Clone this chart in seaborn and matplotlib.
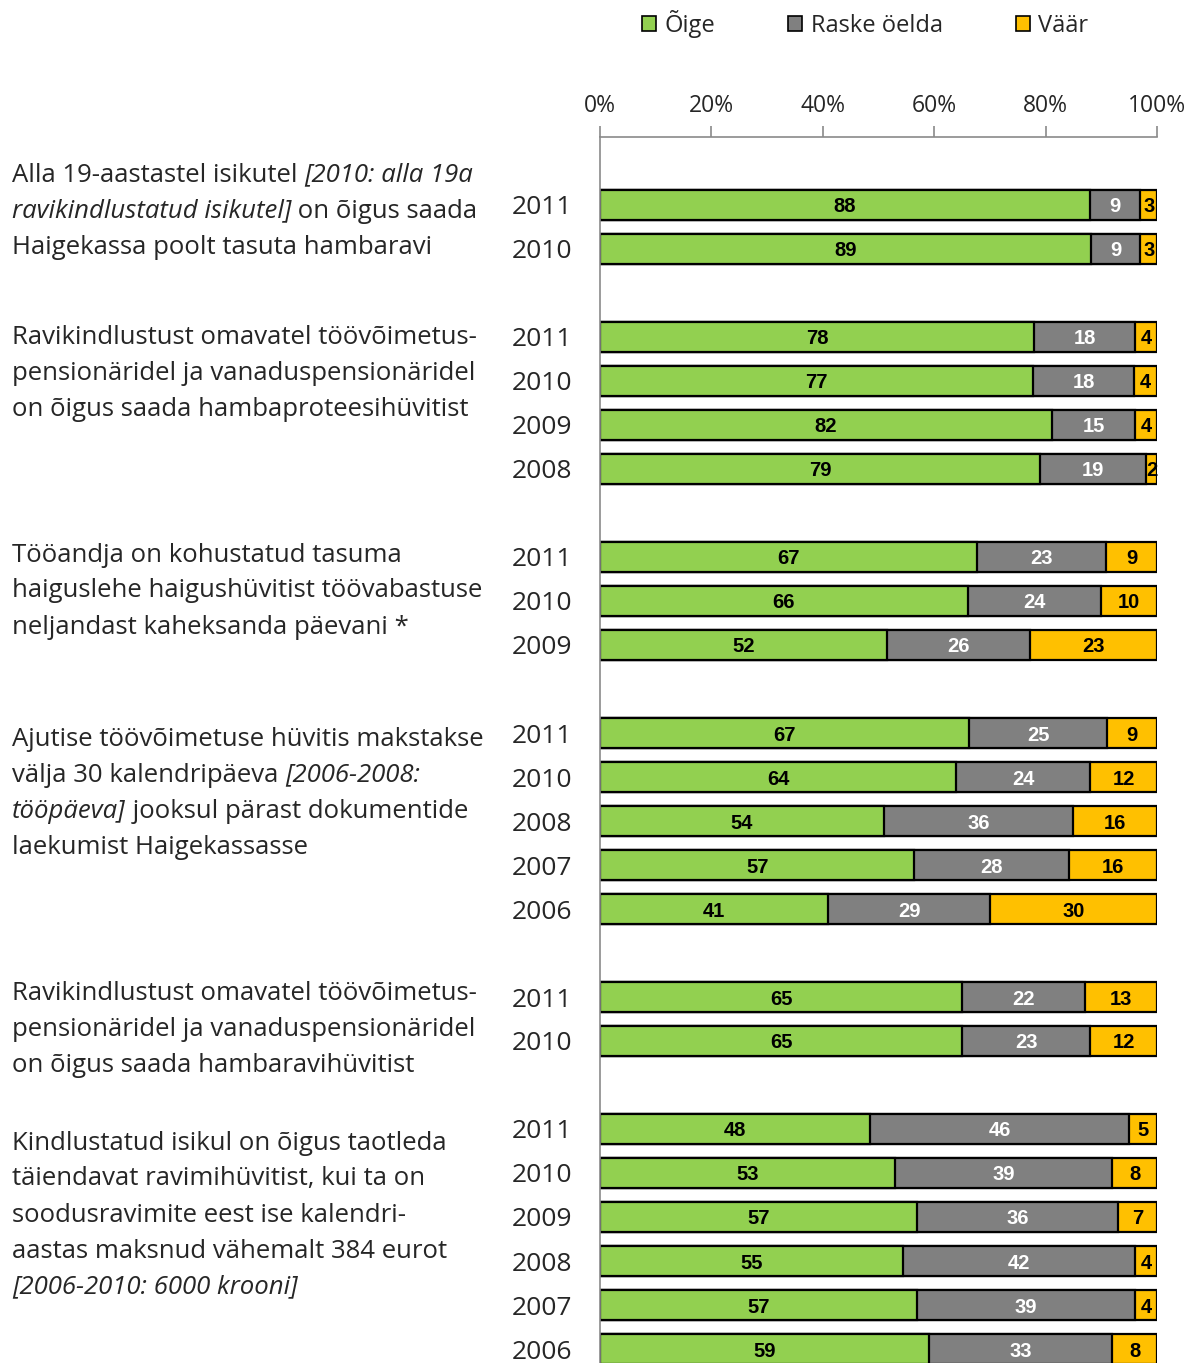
# Stacked 100% bars: knowledge of health insurance rules (Õige / Raske öelda / Väär)
import matplotlib
matplotlib.use("Agg")
import matplotlib.pyplot as plt
import matplotlib.patches as mpatches
import seaborn as sns
import numpy as np
import pandas as pd

# --- data -------------------------------------------------------------
years = [
    ["2011", "2010"],
    ["2011", "2010", "2009", "2008"],
    ["2011", "2010", "2009"],
    ["2011", "2010", "2008", "2007", "2006"],
    ["2011", "2010"],
    ["2011", "2010", "2009", "2008", "2007", "2006"],
]
oige = [
    [88, 89],
    [78, 77, 82, 79],
    [67, 66, 52],
    [67, 64, 54, 57, 41],
    [65, 65],
    [48, 53, 57, 55, 57, 59],
]
raske = [
    [9, 9],
    [18, 18, 15, 19],
    [23, 24, 26],
    [25, 24, 36, 28, 29],
    [22, 23],
    [46, 39, 36, 42, 39, 33],
]
vaar = [
    [3, 3],
    [4, 4, 4, 2],
    [9, 10, 23],
    [9, 12, 16, 16, 30],
    [13, 12],
    [5, 8, 7, 4, 4, 8],
]
# statement text: list of lines, each line a list of (text, italic)
statements = [
    [[("Alla 19-aastastel isikutel ", False), ("[2010: alla 19a", True)],
     [("ravikindlustatud isikutel]", True), (" on õigus saada", False)],
     [("Haigekassa poolt tasuta hambaravi", False)]],
    [[("Ravikindlustust omavatel töövõimetus-", False)],
     [("pensionäridel ja vanaduspensionäridel", False)],
     [("on õigus saada hambaproteesihüvitist", False)]],
    [[("Tööandja on kohustatud tasuma", False)],
     [("haiguslehe haigushüvitist töövabastuse", False)],
     [("neljandast kaheksanda päevani *", False)]],
    [[("Ajutise töövõimetuse hüvitis makstakse", False)],
     [("välja 30 kalendripäeva ", False), ("[2006-2008:", True)],
     [("tööpäeva]", True), (" jooksul pärast dokumentide", False)],
     [("laekumist Haigekassasse", False)]],
    [[("Ravikindlustust omavatel töövõimetus-", False)],
     [("pensionäridel ja vanaduspensionäridel", False)],
     [("on õigus saada hambaravihüvitist", False)]],
    [[("Kindlustatud isikul on õigus taotleda", False)],
     [("täiendavat ravimihüvitist, kui ta on", False)],
     [("soodusravimite eest ise kalendri-", False)],
     [("aastas maksnud vähemalt 384 eurot", False)],
     [("[2006-2010: 6000 krooni]", True)]],
]
series_names = ["Õige", "Raske öelda", "Väär"]
colors = ["#92D050", "#808080", "#FFC000"]
label_colors = ["black", "white", "black"]

# --- build table: one row per bar, one empty slot between groups ------
rows = []
slot = 0
for g in range(len(years)):
    for i, yr in enumerate(years[g]):
        vals = np.array([oige[g][i], raske[g][i], vaar[g][i]], dtype=float)
        pct = vals / vals.sum() * 100
        rows.append(dict(pos=slot, year=yr, o=vals[0], r=vals[1], v=vals[2],
                         po=pct[0], pr=pct[1], pv=pct[2]))
        slot += 1
    slot += 1
df = pd.DataFrame(rows)
df["c1"] = df["po"]
df["c2"] = df["po"] + df["pr"]
df["c3"] = df["po"] + df["pr"] + df["pv"]

# --- figure ----------------------------------------------------------
W, H = 1195, 1363
sns.set_style("white")
plt.rcParams["font.family"] = ["Open Sans", "DejaVu Sans"]
fig = plt.figure(figsize=(W / 100, H / 100), dpi=100)
ax = fig.add_axes([600 / W, 0, 557 / W, 1 - 137 / H])

# overlay cumulative totals, widest first
for col, c in zip(["c3", "c2", "c1"], colors[::-1]):
    sns.barplot(data=df, x=col, y="pos", orient="y", native_scale=True,
                color=c, width=0.68, edgecolor="black", linewidth=1.6,
                saturation=1, errorbar=None, ax=ax)

# segment labels
for _, r in df.iterrows():
    starts = [0, r["c1"], r["c2"]]
    for k, (p, raw) in enumerate(zip([r["po"], r["pr"], r["pv"]], [r["o"], r["r"], r["v"]])):
        ax.text(starts[k] + p / 2, r["pos"], f"{int(raw)}", ha="center", va="center_baseline",
                fontsize=14.5, fontweight="bold", color=label_colors[k],
                family=["Liberation Sans", "DejaVu Sans"])

ax.set_xlim(0, 100)
ax.set_ylim((H - 205) / 44, -68 / 44)
ax.set_xticks([0, 20, 40, 60, 80, 100])
ax.set_xticklabels(["0%", "20%", "40%", "60%", "80%", "100%"], fontsize=16.5)
ax.xaxis.tick_top()
ax.xaxis.set_label_position("top")
ax.tick_params(axis="x", direction="out", length=8, width=1.2, color="#8a8a8a", pad=6)
ax.set_yticks(df["pos"])
ax.set_yticklabels(df["year"], fontsize=19)
ax.tick_params(axis="y", length=0, pad=20)
ax.set_xlabel("")
ax.set_ylabel("")
for s in ["right", "bottom"]:
    ax.spines[s].set_visible(False)
for s in ["top", "left"]:
    ax.spines[s].set_color("#8a8a8a")
    ax.spines[s].set_linewidth(1.2)

# statement text on the left
fig.canvas.draw()
renderer = fig.canvas.get_renderer()
first_line_y = [175, 337, 555, 739, 993, 1143]
for g, lines in enumerate(statements):
    for li, parts in enumerate(lines):
        x = 12
        y = first_line_y[g] + 36 * li
        for txt, ital in parts:
            t = fig.text(x / W, 1 - y / H, txt, ha="left", va="center", fontsize=18.5,
                         style="italic" if ital else "normal")
            x += t.get_window_extent(renderer).width

# legend
handles = [mpatches.Patch(facecolor=c, edgecolor="black", linewidth=1.2) for c in colors]
fig.legend(handles, series_names, loc="center", bbox_to_anchor=(865 / W, 1 - 24 / H),
           ncol=3, frameon=False, fontsize=17, handlelength=0.6, handleheight=0.6,
           handletextpad=0.35, columnspacing=3.1)

plt.savefig("out.png", dpi=100)
plt.close()
